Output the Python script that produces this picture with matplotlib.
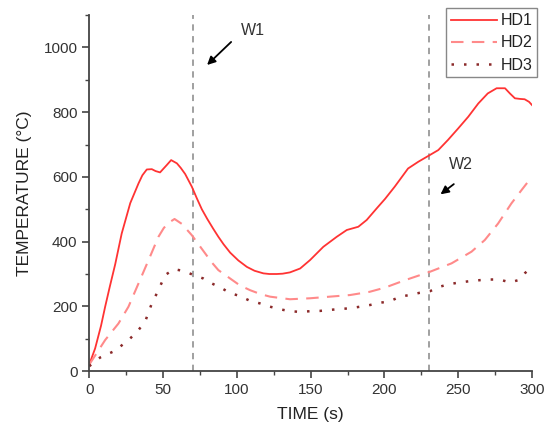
import matplotlib
matplotlib.use("Agg")
import matplotlib.pyplot as plt
from matplotlib.ticker import MultipleLocator

plt.rcParams['font.family'] = ['Liberation Sans', 'DejaVu Sans']

# HD1 (solid)
t1 = [0, 4, 8, 10.8, 14, 17.6, 22, 27.8, 33.4, 36, 39, 42.4, 45, 48, 52.6, 55.5, 59.4,
      62, 65, 69.5, 73, 76.3, 80, 84, 87.5, 91, 95.5, 101, 106.8, 112, 118, 122, 127,
      131, 136, 142.9, 149.6, 158.6, 167.7, 174.5, 182.3, 188,
      194.8, 200.4, 207, 216, 223, 230.9, 236.5, 243, 250, 256.8, 263.6, 270, 276, 281.7,
      285, 288.4, 292, 295, 298, 300]
hd1 = [20, 70, 140, 199, 262, 330, 425, 519, 580, 605, 623, 624, 618, 614, 637, 652, 642,
       628, 609, 570, 533, 500, 470, 440, 415, 392, 366, 342, 322, 310, 302, 300, 300,
       301, 305, 317, 343, 384, 415, 436, 446, 467,
       503, 532, 570, 626, 647, 668, 683, 714, 750, 786, 827, 858, 874, 874,
       858, 843, 841, 840, 832, 822]

# HD2 (dashed)
t2 = [0, 5, 10.8, 19.8, 26.6, 33.4, 40.2, 46.9, 50.5, 53.7, 57.8, 62.7, 69.5, 74,
      78.5, 83, 87.5, 95.5, 102, 109, 116, 122.5, 136, 149.6, 163, 176.7, 190, 200.4,
      214, 230.9, 245.5, 259, 268, 277, 286, 293, 300]
hd2 = [20, 55, 96, 147, 199, 271, 343, 415, 442, 458, 470, 455, 420, 392,
       364, 336, 312, 286, 265, 250, 238, 230, 222, 225, 230, 235, 245, 258,
       281, 307, 333, 369, 405, 456, 518, 560, 601]

# HD3 (dotted)
t3 = [0, 7.4, 17.6, 27.8, 33.4, 37.9, 42.4, 45.8, 48.7, 51.5, 57.5, 64.3, 70.6, 77.4,
      83, 89.8, 95.5, 102, 109, 115.8, 122.5, 129.3, 136, 142.9, 149.6, 156.4, 163,
      170, 176.7, 183.5, 190, 197, 203.8, 210.6, 217, 224, 230.9, 237.6, 244.4, 251,
      258, 264.7, 271.5, 278, 285, 290.7, 295, 300]
hd3 = [15, 42, 63, 101, 127, 153, 209, 240, 269, 297, 315, 309, 297, 286,
       271, 256, 241, 232, 217, 209, 199, 191, 185, 183, 185, 186, 189,
       192, 194, 199, 204, 211, 216, 230, 235, 242, 247, 261, 269, 274,
       278, 281, 283, 283, 274, 281, 302, 322]

w_times = [70, 230]
w_labels = ['W1', 'W2']

fig = plt.figure(figsize=(5.44, 4.32), dpi=100)
ax = fig.add_axes([0.164, 0.141, 0.814, 0.824])

ax.plot(t1, hd1, color='#ff3333', lw=1.3, label='HD1')
ax.plot(t2, hd2, color='#ff8a8a', lw=1.5, ls=(0, (6, 4)), label='HD2')
ax.plot(t3, hd3, color='#8b2a2a', lw=1.8, ls=(0, (1, 4)), label='HD3')

for wt in w_times:
    ax.axvline(wt, color='#999999', lw=1.3, ls=(0, (3.5, 3)), zorder=0)

ax.annotate('', xy=(78.5, 940), xytext=(97.5, 1023),
            arrowprops=dict(arrowstyle='-|>', color='black', lw=1.3, mutation_scale=12))
ax.text(111, 1054, w_labels[0], fontsize=11.5, color='#333333', ha='center', va='center')
ax.annotate('', xy=(236.5, 541), xytext=(248.5, 583),
            arrowprops=dict(arrowstyle='-|>', color='black', lw=1.3, mutation_scale=12))
ax.text(252, 637, w_labels[1], fontsize=11.5, color='#333333', ha='center', va='center')

ax.set_xlim(0, 300)
ax.set_ylim(0, 1100)
ax.xaxis.set_major_locator(MultipleLocator(50))
ax.xaxis.set_minor_locator(MultipleLocator(25))
ax.yaxis.set_major_locator(MultipleLocator(200))
ax.yaxis.set_minor_locator(MultipleLocator(100))
ax.set_yticks([0, 200, 400, 600, 800, 1000])

for s in ['top', 'right']:
    ax.spines[s].set_visible(False)
for s in ['left', 'bottom']:
    ax.spines[s].set_color('#444444')
    ax.spines[s].set_linewidth(1.3)

ax.tick_params(which='major', direction='out', length=5, width=1.2, color='#444444',
               labelsize=11, labelcolor='#333333')
ax.tick_params(which='minor', direction='out', length=3, width=1.0, color='#444444')

ax.set_xlabel('TIME (s)', fontsize=12.5, color='#222222', labelpad=7)
ax.set_ylabel('TEMPERATURE (°C)', fontsize=12.5, color='#222222', labelpad=8)

leg = ax.legend(loc='upper right', bbox_to_anchor=(1.012, 1.019), fontsize=11.5,
                handlelength=2.9, handletextpad=0.2, borderpad=0.3, labelspacing=0.45,
                borderaxespad=0, fancybox=False, framealpha=1)
leg.get_frame().set_edgecolor('#888888')
leg.get_frame().set_linewidth(1.0)
for txt in leg.get_texts():
    txt.set_color('#222222')

fig.savefig('out.png', dpi=100)
